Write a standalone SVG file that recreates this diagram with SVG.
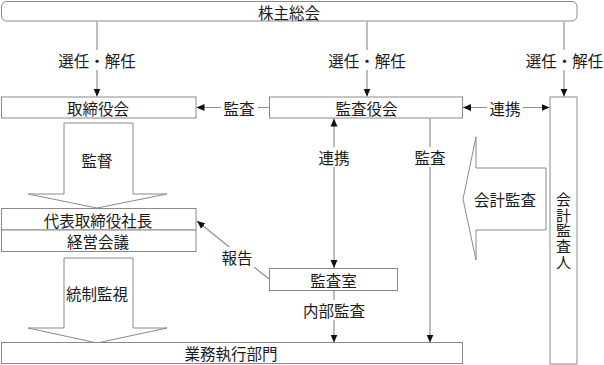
<svg xmlns="http://www.w3.org/2000/svg" width="604" height="365" viewBox="0 0 604 365">
  <style>
    .box { fill: #ffffff; stroke: #8a8a8a; stroke-width: 1; }
    .big { fill: #ffffff; stroke: #8a8a8a; stroke-width: 1; }
    .ln { fill: none; stroke: #8f8f8f; stroke-width: 1.2; }
    .t { font-family: "Noto Sans CJK JP", "Noto Sans CJK SC", sans-serif; font-size: 15.5px; fill: #1a1a1a; text-anchor: middle; dominant-baseline: central; }
    .v { font-family: "Noto Sans CJK JP", "Noto Sans CJK SC", sans-serif; font-size: 15px; fill: #1a1a1a; text-anchor: middle; writing-mode: vertical-rl; letter-spacing: 0.6px; }
    .bg { fill: #ffffff; stroke: none; }
  </style>
  <defs>
    <marker id="ah" viewBox="0 0 8 8" refX="8" refY="4" markerWidth="8" markerHeight="8" markerUnits="userSpaceOnUse" orient="auto-start-reverse">
      <path d="M0,0.5 L8,4 L0,7.5 z" fill="#111111"/>
    </marker>
  </defs>
  <rect width="604" height="365" fill="#ffffff"/>

  <g id="connectors">
    <path class="ln" d="M97,21.5 V96.5" marker-end="url(#ah)"/>
    <path class="ln" d="M367,21.5 V96.5" marker-end="url(#ah)"/>
    <path class="ln" d="M564,21.5 V96.5" marker-end="url(#ah)"/>
    <path class="ln" d="M269,107.5 H196.5" marker-end="url(#ah)"/>
    <path class="ln" d="M463,107.5 H549.5" marker-start="url(#ah)" marker-end="url(#ah)"/>
    <path class="ln" d="M334,118.5 V268" marker-start="url(#ah)" marker-end="url(#ah)"/>
    <path class="ln" d="M430,118.5 V342.5" marker-end="url(#ah)"/>
    <path class="ln" d="M269,279 L197,221" marker-end="url(#ah)"/>
    <path class="ln" d="M334,291 V342.5" marker-end="url(#ah)"/>
    <g id="connector-labels">
      <rect class="bg" x="57" y="50" width="80" height="20"/>
      <text class="t" x="97" y="60">選任・解任</text>
      <rect class="bg" x="327" y="50" width="80" height="20"/>
      <text class="t" x="367" y="60">選任・解任</text>
      <rect class="bg" x="524" y="50" width="80" height="20"/>
      <text class="t" x="564.5" y="60">選任・解任</text>
      <rect class="bg" x="221" y="98" width="37" height="19"/>
      <text class="t" x="239" y="107.5">監査</text>
      <rect class="bg" x="487" y="98" width="36" height="19"/>
      <text class="t" x="505" y="107.5">連携</text>
      <rect class="bg" x="316" y="147" width="36" height="20"/>
      <text class="t" x="334" y="157">連携</text>
      <rect class="bg" x="412" y="147" width="36" height="20"/>
      <text class="t" x="430" y="157">監査</text>
      <rect class="bg" x="219" y="247" width="36" height="20"/>
      <text class="t" x="237" y="257">報告</text>
      <rect class="bg" x="300" y="300" width="68" height="20"/>
      <text class="t" x="334" y="310">内部監査</text>
    </g>
  </g>

  <g id="node-shareholders">
    <rect class="box" x="1.5" y="1.5" width="575.5" height="19.5" rx="5" ry="5"/>
    <text class="t" x="289" y="11.5">株主総会</text>
  </g>
  <g id="node-board">
    <rect class="box" x="1.5" y="97" width="194.5" height="21"/>
    <text class="t" x="98" y="107.5">取締役会</text>
  </g>
  <g id="node-auditboard">
    <rect class="box" x="269.5" y="97" width="193" height="21"/>
    <text class="t" x="366.5" y="107.5">監査役会</text>
  </g>
  <g id="node-accountingauditor">
    <rect class="box" x="550" y="97" width="27" height="267"/>
    <text class="v" x="563.5" y="231">会計監査人</text>
  </g>
  <g id="arrow-supervision">
    <polygon class="big" points="64,123 133,123 133,194 167,194 97,208 28,194 64,194"/>
    <text class="t" x="97" y="160">監督</text>
  </g>
  <g id="node-president">
    <rect class="box" x="1.5" y="208.5" width="194.5" height="21.5"/>
    <text class="t" x="98" y="219.5">代表取締役社長</text>
  </g>
  <g id="node-management">
    <rect class="box" x="1.5" y="230" width="194.5" height="21.5"/>
    <text class="t" x="98" y="241">経営会議</text>
  </g>
  <g id="arrow-control">
    <polygon class="big" points="64,258 133,258 133,328 167,328 97,343 28,328 64,328"/>
    <text class="t" x="97" y="293">統制監視</text>
  </g>
  <g id="arrow-accountingaudit">
    <polygon class="big" points="546,168 476,168 476,137 463,199 476,260 476,230 546,230"/>
    <text class="t" x="505" y="199">会計監査</text>
  </g>
  <g id="node-auditoffice">
    <rect class="box" x="269.5" y="268.5" width="128" height="22"/>
    <text class="t" x="333.5" y="279.5">監査室</text>
  </g>
  <g id="node-operations">
    <rect class="box" x="1.5" y="342.5" width="461" height="21"/>
    <text class="t" x="231" y="353">業務執行部門</text>
  </g>
</svg>
